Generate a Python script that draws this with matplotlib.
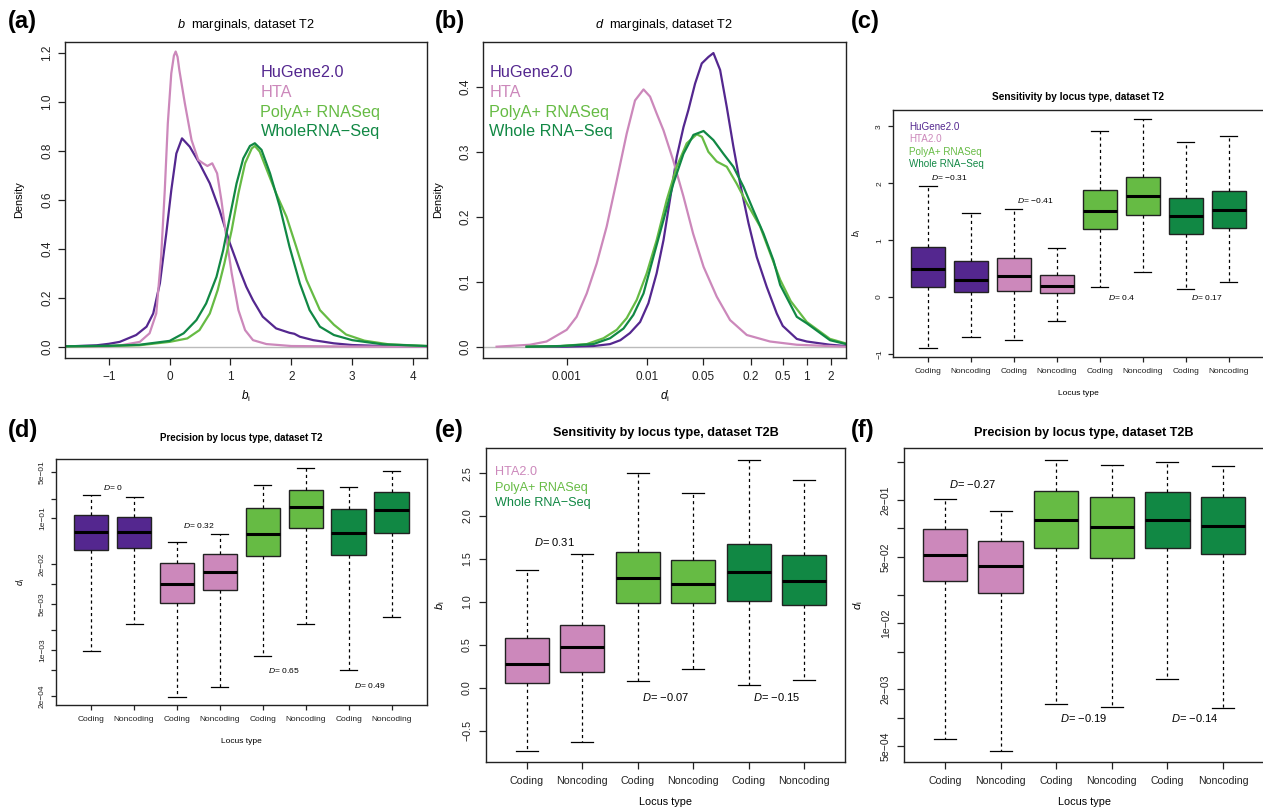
import matplotlib
matplotlib.use("Agg")
import matplotlib.pyplot as plt
from matplotlib.ticker import NullLocator



PURPLE="#54278f"
PINK="#cc88bb"
LIGHT_GREEN="#66bb44"
DARK_GREEN="#118844"
NAMES_T2=["HuGene2.0","HTA","PolyA+ RNASeq","WholeRNA\u2212Seq"]
NAMES_T2_B=["HuGene2.0","HTA","PolyA+ RNASeq","Whole RNA\u2212Seq"]
NAMES_T2_C=["HuGene2.0","HTA2.0","PolyA+ RNASeq","Whole RNA\u2212Seq"]
NAMES_T2B=["HTA2.0","PolyA+ RNASeq","Whole RNA\u2212Seq"]
LOCUS=["Coding","Noncoding"]

# (a) b marginals, densities
A_HUGENE_X=[-1.72,-1.2,-1.0,-0.82,-0.55,-0.38,-0.27,-0.16,-0.055,0.027,0.11,0.203,0.33,0.49,0.66,0.82,0.99,1.15,1.26,1.37,1.53,1.75,1.97,2.05,2.14,2.36,2.7,3.0,3.5,4.23]
A_HUGENE_Y=[0.001,0.006,0.012,0.02,0.048,0.082,0.136,0.26,0.464,0.64,0.79,0.852,0.818,0.75,0.668,0.559,0.423,0.314,0.245,0.19,0.123,0.075,0.057,0.053,0.041,0.027,0.014,0.007,0.003,0.001]
A_HTA_X=[-1.72,-1.0,-0.82,-0.49,-0.33,-0.22,-0.14,-0.08,-0.03,0.027,0.07,0.099,0.13,0.16,0.25,0.36,0.47,0.55,0.62,0.70,0.78,0.85,0.93,1.02,1.13,1.24,1.37,1.59,2.0,3.0,4.23]
A_HTA_Y=[0.0,0.002,0.005,0.02,0.055,0.136,0.368,0.64,0.914,1.118,1.19,1.207,1.185,1.13,0.995,0.845,0.764,0.75,0.739,0.75,0.709,0.60,0.45,0.30,0.15,0.068,0.027,0.011,0.003,0.001,0.0]
A_POLYA_X=[-1.72,-1.0,-0.5,0.0,0.29,0.49,0.66,0.79,0.90,1.02,1.13,1.24,1.35,1.40,1.48,1.62,1.75,1.92,2.08,2.25,2.47,2.7,2.9,3.2,3.6,4.23]
A_POLYA_Y=[0.001,0.003,0.006,0.02,0.034,0.068,0.136,0.232,0.341,0.477,0.627,0.75,0.811,0.821,0.798,0.709,0.627,0.532,0.409,0.273,0.15,0.09,0.05,0.025,0.01,0.003]
A_WHOLE_X=[-1.72,-1.0,-0.5,0.0,0.23,0.44,0.60,0.77,0.88,0.99,1.10,1.21,1.32,1.40,1.51,1.65,1.81,1.97,2.14,2.30,2.47,2.7,3.0,3.5,4.23]
A_WHOLE_Y=[0.002,0.004,0.008,0.024,0.055,0.109,0.177,0.286,0.395,0.532,0.668,0.77,0.821,0.832,0.805,0.709,0.573,0.409,0.259,0.15,0.082,0.048,0.027,0.01,0.003]

# (b) d marginals
B_HUGENE_X=[3.16e-4,1e-3,2.15e-3,3.48e-3,4.68e-3,6.17e-3,8.26e-3,0.0105,0.0133,0.0162,0.0195,0.0237,0.0288,0.0331,0.0402,0.0487,0.0590,0.0681,0.0826,0.1,0.121,0.147,0.187,0.237,0.316,0.422,0.501,0.750,1.0,1.95,3.09]
B_HUGENE_Y=[0.0,0.0,0.001,0.004,0.010,0.021,0.038,0.067,0.113,0.164,0.226,0.292,0.338,0.364,0.405,0.436,0.446,0.452,0.426,0.369,0.308,0.251,0.190,0.138,0.092,0.051,0.032,0.012,0.008,0.003,0.001]
B_HTA_X=[1.33e-4,3.47e-4,5.6e-4,1e-3,1.33e-3,1.78e-3,2.37e-3,3.16e-3,4.22e-3,5.62e-3,7.14e-3,9.12e-3,0.0110,0.0133,0.0162,0.0214,0.0288,0.0380,0.0513,0.0750,0.110,0.178,0.347,0.750,3.09]
B_HTA_Y=[0.0,0.003,0.008,0.026,0.046,0.082,0.128,0.185,0.256,0.328,0.379,0.396,0.385,0.359,0.333,0.287,0.231,0.174,0.123,0.077,0.041,0.018,0.008,0.003,0.0]
B_POLYA_X=[3.16e-4,8.3e-4,1.78e-3,2.88e-3,4.22e-3,5.62e-3,7.5e-3,0.01,0.0133,0.0178,0.0237,0.0316,0.0422,0.049,0.0589,0.075,0.1,0.133,0.178,0.261,0.348,0.465,0.631,1.0,1.95,3.09]
B_POLYA_Y=[0.0,0.001,0.004,0.013,0.026,0.044,0.072,0.113,0.164,0.226,0.277,0.313,0.327,0.323,0.30,0.285,0.277,0.251,0.221,0.185,0.144,0.103,0.07,0.038,0.012,0.005]
B_WHOLE_X=[3.16e-4,8.3e-4,2.15e-3,3.48e-3,5.13e-3,6.81e-3,9.12e-3,0.0121,0.0162,0.0215,0.0288,0.0383,0.0513,0.0681,0.0908,0.121,0.162,0.215,0.288,0.383,0.465,0.75,1.0,1.95,3.09]
B_WHOLE_Y=[0.0,0.001,0.004,0.013,0.028,0.049,0.082,0.138,0.195,0.251,0.297,0.326,0.332,0.318,0.297,0.277,0.246,0.210,0.174,0.133,0.095,0.046,0.036,0.010,0.004]
B_XTICKS=[0.001,0.01,0.05,0.2,0.5,1,2]
B_XTICK_LABELS=["0.001","0.01","0.05","0.2","0.5","1","2"]

# (c) sensitivity by locus type, T2
C_HI=[1.955,1.474,1.556,0.863,2.912,3.13,2.719,2.83]
C_Q3=[0.88,0.64,0.693,0.382,1.885,2.12,1.75,1.861]
C_MED=[0.487,0.305,0.364,0.194,1.509,1.779,1.427,1.538]
C_Q1=[0.17,0.082,0.112,0.065,1.204,1.444,1.104,1.221]
C_LO=[-0.90,-0.70,-0.75,-0.423,0.182,0.446,0.141,0.258]
C_D_X=[1.5,3.5,5.5,7.5]
C_D_Y=[2.096,1.70,0.0,0.0]
C_D_TXT=["\u22120.31","\u22120.41","0.4","0.17"]

# (d) precision by locus type, T2
D_HI=[0.229,0.213,0.0442,0.0585,0.317,0.582,0.303,0.524]
D_Q3=[0.111,0.106,0.0209,0.0284,0.142,0.273,0.137,0.248]
D_MED=[0.0613,0.0619,0.0100,0.0155,0.0578,0.147,0.0592,0.132]
D_Q1=[0.0334,0.0350,0.00517,0.00833,0.0271,0.0704,0.0277,0.0592]
D_LO=[9.6e-4,2.5e-3,1.97e-4,2.73e-4,8.3e-4,2.5e-3,4.95e-4,3.24e-3]
D_D_X=[1.5,3.5,5.5,7.5]
D_D_Y=[0.296,0.0793,4.95e-4,2.96e-4]
D_D_TXT=["0","0.32","0.65","0.49"]
D_YTICKS=[5e-1,2e-1,1e-1,2e-2,1e-2,5e-3,2e-3,1e-3,5e-4,2e-4]
D_YTICK_LABELS=["5e\u221201","","1e\u221201","2e\u221202","","5e\u221203","","1e\u221203","","2e\u221204"]

# (e) sensitivity by locus type, T2B
E_HI=[1.376,1.555,2.499,2.266,2.651,2.421]
E_Q3=[0.583,0.735,1.586,1.492,1.671,1.543]
E_MED=[0.276,0.470,1.275,1.209,1.345,1.248]
E_Q1=[0.054,0.187,0.983,0.983,1.014,0.960]
E_LO=[-0.735,-0.633,0.078,0.214,0.035,0.086]
E_D_X=[1.5,3.5,5.5]
E_D_Y=[1.695,-0.105,-0.105]
E_D_TXT=["0.31","\u22120.07","\u22120.15"]

# (f) precision by locus type, T2B
F_HI=[0.205,0.154,0.530,0.465,0.508,0.457]
F_Q3=[0.0988,0.0738,0.247,0.213,0.241,0.216]
F_MED=[0.0530,0.0402,0.122,0.104,0.122,0.106]
F_Q1=[0.0277,0.0210,0.0617,0.0488,0.0627,0.0538]
F_LO=[5.97e-4,4.5e-4,1.4e-3,1.31e-3,2.55e-3,1.27e-3]
F_D_X=[1.5,3.5,5.5]
F_D_Y=[0.298,9.95e-4,9.95e-4]
F_D_TXT=["\u22120.27","\u22120.19","\u22120.14"]
F_YTICKS=[5e-1,2e-1,1e-1,5e-2,2e-2,1e-2,5e-3,2e-3,1e-3,5e-4]
F_YTICK_LABELS=["","2e\u221201","","5e\u221202","","1e\u221202","","2e\u221203","","5e\u221204"]



plt.rcParams["font.family"]=["Liberation Sans","DejaVu Sans"]
plt.rcParams["mathtext.fontset"]="custom"
plt.rcParams["mathtext.it"]="Liberation Sans:italic"
plt.rcParams["mathtext.rm"]="Liberation Sans"
plt.rcParams["axes.unicode_minus"]=True

W,H=1263,809
fig=plt.figure(figsize=(W/100,H/100),dpi=100)

def add_axes(l,t,r,b):
	return fig.add_axes([l/W,1-b/H,(r-l)/W,(b-t)/H])

def put(ax,s,fx,fy,dx,dy,**kw):
	# dx,dy in pixels from an axes-fraction anchor
	ax.annotate(s,(fx,fy),xycoords="axes fraction",xytext=(dx*0.72,dy*0.72),textcoords="offset points",ha=kw.pop("ha","center"),va=kw.pop("va","center"),annotation_clip=False,**kw)

def style(ax,fs,tl,xpad,ypad):
	for s in ax.spines.values():
		s.set_linewidth(1.0)
		s.set_color("#222222")
	ax.tick_params(axis="both",which="major",direction="out",length=tl,width=0.9,labelsize=fs,top=False,right=False,colors="#222222")
	ax.tick_params(axis="x",pad=xpad)
	ax.tick_params(axis="y",pad=ypad,labelrotation=90)
	ax.xaxis.set_minor_locator(NullLocator())
	ax.yaxis.set_minor_locator(NullLocator())
	for lab in ax.get_yticklabels():
		lab.set_verticalalignment("center")

def boxes(ax,hi,q3,med,q1,lo,colors):
	stats=[dict(whishi=hi[i],q3=q3[i],med=med[i],q1=q1[i],whislo=lo[i],fliers=[]) for i in range(len(med))]
	art=ax.bxp(stats,positions=range(1,len(med)+1),widths=0.8,capwidths=0.4,patch_artist=True,showfliers=False,
		boxprops=dict(linewidth=1.0,edgecolor="#222222"),
		medianprops=dict(color="black",linewidth=2.2,solid_capstyle="butt"),
		whiskerprops=dict(color="black",linewidth=0.9,linestyle=(0,(2.5,2.5))),
		capprops=dict(color="black",linewidth=0.9))
	for patch,c in zip(art["boxes"],colors):
		patch.set_facecolor(c)

def legend(ax,names,colors,fx,fy,step,fs):
	for i,(n,c) in enumerate(zip(names,colors)):
		ax.text(fx,fy-i*step,n,color=c,fontsize=fs,ha="left",va="center",transform=ax.transAxes)

def panel_label(x,y,s):
	fig.text(x/W,1-y/H,s,fontsize=17,fontweight="bold",ha="left",va="center")



# (a)
ax=add_axes(65,42,427,358)
ax.axhline(0,color="#bbbbbb",linewidth=1.0,zorder=1)
for xs,ys,c in [(A_HUGENE_X,A_HUGENE_Y,PURPLE),(A_HTA_X,A_HTA_Y,PINK),(A_POLYA_X,A_POLYA_Y,LIGHT_GREEN),(A_WHOLE_X,A_WHOLE_Y,DARK_GREEN)]:
	ax.plot(xs,ys,color=c,linewidth=1.6,solid_joinstyle="round")
ax.set_xlim(-1.72,4.23)
ax.set_ylim(-0.046,1.246)
ax.set_xticks([-1,0,1,2,3,4],["\u22121","0","1","2","3","4"])
ax.set_yticks([0,0.2,0.4,0.6,0.8,1.0,1.2],["0.0","0.2","0.4","0.6","0.8","1.0","1.2"])
style(ax,8.5,4.8,4.5,3.6)
legend(ax,NAMES_T2,[PURPLE,PINK,LIGHT_GREEN,DARK_GREEN],0.54,0.902,0.062,11.7)
put(ax,"$b$  marginals, dataset T2",0.5,1,0,17,fontsize=9.2)
put(ax,"Density",0,0.5,-45.7,0,fontsize=7.9,rotation=90)
put(ax,"$b_\\mathrm{i}$",0.5,0,0,-38.7,fontsize=8.5)
panel_label(8,21.5,"(a)")

# (b)
ax=add_axes(483,42,846,358)
ax.set_xscale("log")
ax.axhline(0,color="#bbbbbb",linewidth=1.0,zorder=1)
for xs,ys,c in [(B_HUGENE_X,B_HUGENE_Y,PURPLE),(B_HTA_X,B_HTA_Y,PINK),(B_POLYA_X,B_POLYA_Y,LIGHT_GREEN),(B_WHOLE_X,B_WHOLE_Y,DARK_GREEN)]:
	ax.plot(xs,ys,color=c,linewidth=1.6,solid_joinstyle="round")
ax.set_xlim(9.0e-5,3.09)
ax.set_ylim(-0.0174,0.469)
ax.set_xticks(B_XTICKS,B_XTICK_LABELS)
ax.set_yticks([0,0.1,0.2,0.3,0.4],["0.0","0.1","0.2","0.3","0.4"])
style(ax,8.5,4.8,4.5,3.6)
legend(ax,NAMES_T2_B,[PURPLE,PINK,LIGHT_GREEN,DARK_GREEN],0.017,0.902,0.062,11.7)
put(ax,"$d$  marginals, dataset T2",0.5,1,0,17,fontsize=9.2)
put(ax,"Density",0,0.5,-44.7,0,fontsize=7.9,rotation=90)
put(ax,"$d_\\mathrm{i}$",0.5,0,0,-38.7,fontsize=8.5)
panel_label(435,21.5,"(b)")

# (c)
ax=add_axes(892.7,110,1264,356.7)
boxes(ax,C_HI,C_Q3,C_MED,C_Q1,C_LO,[PURPLE,PURPLE,PINK,PINK,LIGHT_GREEN,LIGHT_GREEN,DARK_GREEN,DARK_GREEN])
ax.set_xlim(0.18,8.82)
ax.set_ylim(-1.05,3.29)
ax.set_xticks(range(1,9),LOCUS*4)
ax.set_yticks([-1,0,1,2,3],["\u22121","0","1","2","3"])
style(ax,6.0,3.6,4.3,3.3)
legend(ax,NAMES_T2_C,[PURPLE,PINK,LIGHT_GREEN,DARK_GREEN],0.044,0.931,0.0497,7.1)
for x,y,t in zip(C_D_X,C_D_Y,C_D_TXT):
	ax.text(x,y,"$D$= "+t,fontsize=6.1,ha="center",va="center")
put(ax,"Sensitivity by locus type, dataset T2",0.5,1,0,13.3,fontsize=7.2,fontweight="bold")
put(ax,"Locus type",0.5,0,0,-36.7,fontsize=6.0)
put(ax,"$b_\\mathrm{i}$",0,0.5,-36,0,fontsize=6.5,rotation=90)
panel_label(851,21.5,"(c)")

# (d)
ax=add_axes(56,459,426.7,705.3)
boxes(ax,D_HI,D_Q3,D_MED,D_Q1,D_LO,[PURPLE,PURPLE,PINK,PINK,LIGHT_GREEN,LIGHT_GREEN,DARK_GREEN,DARK_GREEN])
ax.set_yscale("log")
ax.set_xlim(0.18,8.82)
ax.set_ylim(1.46e-4,0.796)
ax.set_xticks(range(1,9),LOCUS*4)
ax.set_yticks(D_YTICKS,D_YTICK_LABELS)
style(ax,6.0,3.6,4.3,3.6)
for x,y,t in zip(D_D_X,D_D_Y,D_D_TXT):
	ax.text(x,y,"$D$= "+t,fontsize=6.1,ha="center",va="center")
put(ax,"Precision by locus type, dataset T2",0.5,1,0,21,fontsize=7.0,fontweight="bold")
put(ax,"Locus type",0.5,0,0,-36.4,fontsize=6.0)
put(ax,"$d_\\mathrm{i}$",0,0.5,-35.3,0,fontsize=6.5,rotation=90)
panel_label(8,430,"(d)")

# (e)
ax=add_axes(485.7,448.3,845.3,762)
boxes(ax,E_HI,E_Q3,E_MED,E_Q1,E_LO,[PINK,PINK,LIGHT_GREEN,LIGHT_GREEN,DARK_GREEN,DARK_GREEN])
ax.set_xlim(0.26,6.74)
ax.set_ylim(-0.867,2.79)
ax.set_xticks(range(1,7),LOCUS*3)
ax.set_yticks([-0.5,0,0.5,1.0,1.5,2.0,2.5],["\u22120.5","0.0","0.5","1.0","1.5","2.0","2.5"])
style(ax,7.7,5.3,5.0,4.5)
legend(ax,NAMES_T2B,[PINK,LIGHT_GREEN,DARK_GREEN],0.026,0.923,0.049,9.1)
for x,y,t in zip(E_D_X,E_D_Y,E_D_TXT):
	ax.text(x,y,"$D$= "+t,fontsize=8.0,ha="center",va="center")
put(ax,"Sensitivity by locus type, dataset T2B",0.5,1,0,15.6,fontsize=9.1,fontweight="bold")
put(ax,"Locus type",0.5,0,0,-40.3,fontsize=7.8)
put(ax,"$b_\\mathrm{i}$",0,0.5,-45.7,0,fontsize=8.0,rotation=90)
panel_label(435,430,"(e)")

# (f)
ax=add_axes(904,448.3,1264,762)
boxes(ax,F_HI,F_Q3,F_MED,F_Q1,F_LO,[PINK,PINK,LIGHT_GREEN,LIGHT_GREEN,DARK_GREEN,DARK_GREEN])
ax.set_yscale("log")
ax.set_xlim(0.26,6.74)
ax.set_ylim(3.41e-4,0.703)
ax.set_xticks(range(1,7),LOCUS*3)
ax.set_yticks(F_YTICKS,F_YTICK_LABELS)
style(ax,7.6,5.3,5.0,4.2)
for x,y,t in zip(F_D_X,F_D_Y,F_D_TXT):
	ax.text(x,y,"$D$= "+t,fontsize=8.0,ha="center",va="center")
put(ax,"Precision by locus type, dataset T2B",0.5,1,0,15.6,fontsize=9.1,fontweight="bold")
put(ax,"Locus type",0.5,0,0,-40.3,fontsize=7.8)
put(ax,"$d_\\mathrm{i}$",0,0.5,-45.7,0,fontsize=8.0,rotation=90)
panel_label(851,430,"(f)")

fig.savefig("out.png",dpi=100)
